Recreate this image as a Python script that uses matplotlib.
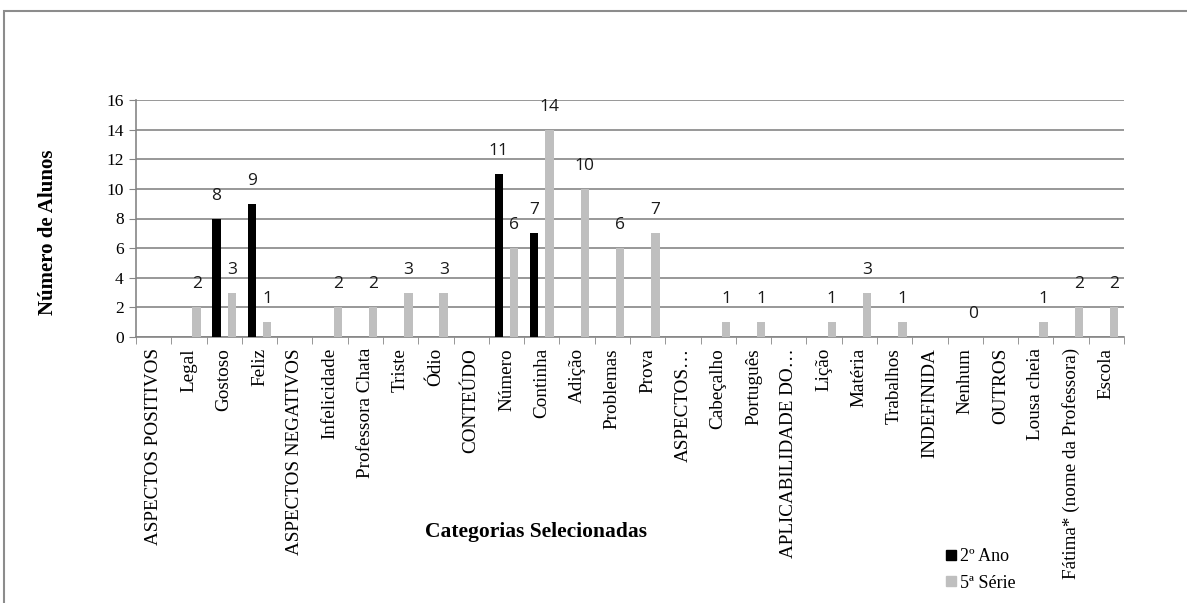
import matplotlib.pyplot as plt
from matplotlib.lines import Line2D
from matplotlib.patches import Rectangle
import numpy as np

# categorias e numero de alunos por turma (None = sem resposta)
categorias = ['ASPECTOS POSITIVOS', 'Legal', 'Gostoso', 'Feliz', 'ASPECTOS NEGATIVOS',
              'Infelicidade', 'Professora Chata', 'Triste', 'Ódio', 'CONTEÚDO',
              'Número', 'Continha', 'Adição', 'Problemas', 'Prova', 'ASPECTOS…',
              'Cabeçalho', 'Português', 'APLICABILIDADE DO…', 'Lição', 'Matéria',
              'Trabalhos', 'INDEFINIDA', 'Nenhum', 'OUTROS', 'Lousa cheia',
              'Fátima* (nome da Professora)', 'Escola']
ano2 = [None, None, 8, 9, None, None, None, None, None, None,
        11, 7, None, None, None, None, None, None, None, None,
        None, None, None, None, None, None, None, None]
serie5 = [None, 2, 3, 1, None, 2, 2, 3, 3, None,
          6, 14, 10, 6, 7, None, 1, 1, None, 1,
          3, 1, None, 0, None, 1, 2, 2]
yticks = [0, 2, 4, 6, 8, 10, 12, 14, 16]

serif = 'Liberation Serif'
W, H = 1187, 603
fig = plt.figure(figsize=(W / 100, H / 100), dpi=100)

# moldura do grafico
fig.patches.append(Rectangle((4 / W, -0.05), 1.1, 1 - 11 / H + 0.05, transform=fig.transFigure,
                             fill=False, edgecolor='#8c8c8c', linewidth=1.5))

ax = fig.add_axes([136 / W, (H - 337) / H, 988 / W, 237 / H])

x = np.arange(len(categorias))
off, bw = 0.22, 0.24
for vals, dx, cor in [(ano2, -off, 'black'), (serie5, off, '#bfbfbf')]:
    xs = [xi + dx for xi, v in zip(x, vals) if v is not None]
    vs = [v for v in vals if v is not None]
    ax.bar(xs, vs, width=bw, color=cor, zorder=3)
    for xi, v in zip(xs, vs):
        ax.annotate(str(v), (xi, v), xytext=(0, 16.5), textcoords='offset points',
                    ha='center', va='center', fontsize=12.5, family='Open Sans', color='#1a1a1a')

ax.set_xlim(-0.5, len(categorias) - 0.5)
ax.set_ylim(0, 16)
ax.set_yticks(yticks)
ax.set_yticklabels([str(t) for t in yticks], fontsize=12.5, family=serif)
ax.yaxis.grid(True, color='#868686', linewidth=1.2, zorder=0)
ax.set_axisbelow(True)

ax.set_xticks(x)
ax.set_xticklabels(categorias, rotation=90, fontsize=13.8, family=serif, va='top', ha='center')
ax.set_xticks(np.arange(-0.5, len(categorias)), minor=True)
ax.tick_params(axis='x', which='major', length=0, pad=8)
ax.tick_params(axis='x', which='minor', length=5, color='#868686')
ax.tick_params(axis='y', length=5, color='#868686', pad=4)

for s in ['top', 'right']:
    ax.spines[s].set_visible(False)
for s in ['left', 'bottom']:
    ax.spines[s].set_color('#868686')
    ax.spines[s].set_linewidth(1.2)

fig.text(48 / W, 1 - 232 / H, 'Número de Alunos', rotation=90, ha='center', va='center',
         fontsize=15, fontweight='bold', family=serif)
fig.text(536 / W, 1 - 532 / H, 'Categorias Selecionadas', ha='center', va='center',
         fontsize=15.5, fontweight='bold', family=serif)

# legenda com marcadores quadrados
handles = [Line2D([], [], marker='s', linestyle='none', markersize=6.5, color='black', label='2º Ano'),
           Line2D([], [], marker='s', linestyle='none', markersize=6.5, color='#bfbfbf', label='5ª Série')]
fig.legend(handles=handles, loc='center left', bbox_to_anchor=(937 / W, 1 - 570 / H),
           frameon=False, prop={'family': serif, 'size': 13}, handlelength=0.6,
           handletextpad=0.2, labelspacing=0.5, borderpad=0)

fig.savefig('out.png', dpi=100)
